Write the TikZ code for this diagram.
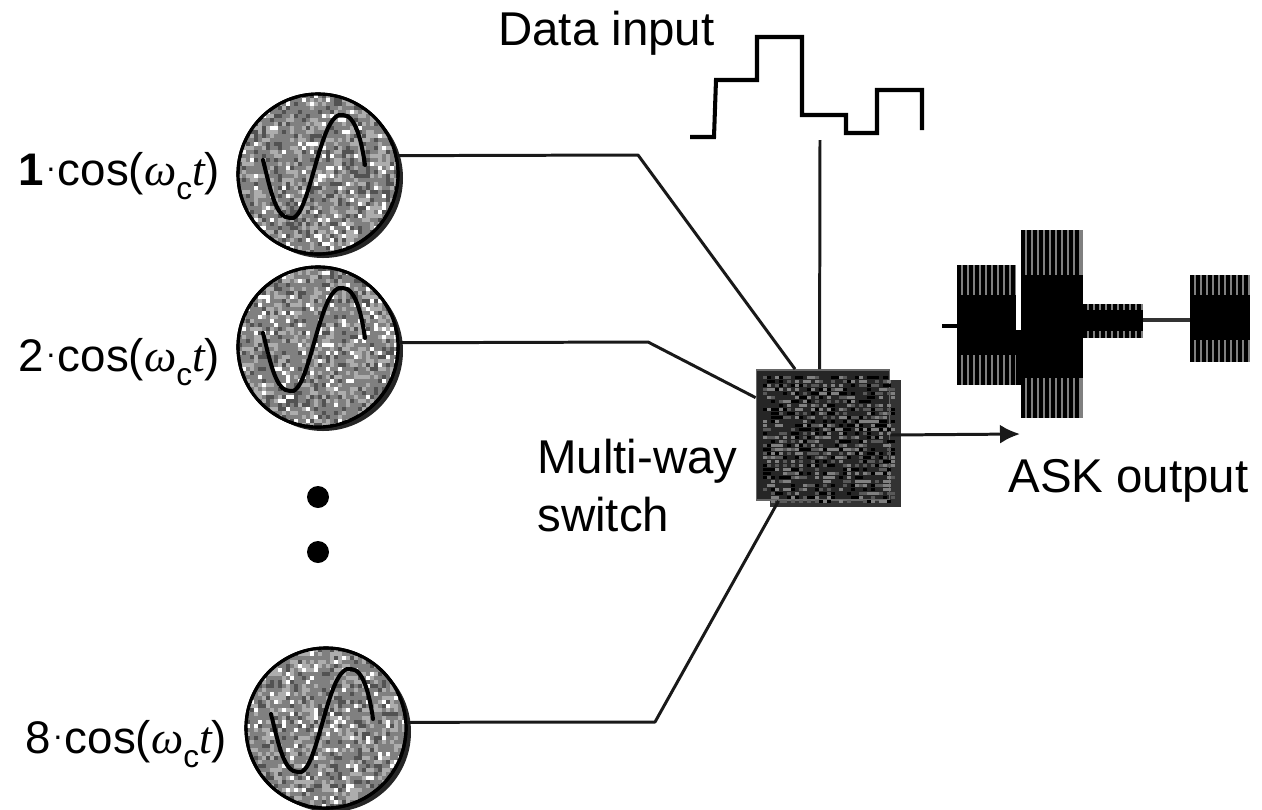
\documentclass[tikz,border=0pt]{standalone}
\usepackage{fontspec}
\usetikzlibrary{arrows.meta}
\setmainfont{Liberation Sans}
\newfontfamily\mathserif{Liberation Serif}
\tikzset{
  px/.style={x=0.02cm,y=-0.02cm},
  lbl/.style={inner sep=0pt,font=\fontsize{27pt}{31pt}\selectfont,align=left},
  cosl/.style={inner sep=0pt,font=\fontsize{26pt}{31pt}\selectfont},
  osc/.style={circle,draw=black,line width=1.8pt,minimum size=3.2cm,inner sep=0pt,fill=black!50},
  swbox/.style={rectangle,draw=gray!80!black,line width=1pt,fill=black!85,minimum width=2.66cm,minimum height=2.6cm,inner sep=0pt},
  wire/.style={line width=1.7pt,black!90,line join=round},
  dotn/.style={circle,fill=black,minimum size=0.44cm,inner sep=0pt},
  wave/.style={line width=2.3pt,black,line join=miter},
  sine/.style={line width=2.3pt,black,line cap=round}
}
\newcommand{\coslabel}[1]{#1\raisebox{0.16em}{\kern1pt\scalebox{0.7}{·}\kern1pt}cos({\mathserif\itshape ω}\raisebox{-0.3em}{\fontsize{18pt}{20pt}\selectfont c}{\mathserif\itshape t})}
% textured oscillator body at centre (#1,#2)
\newcommand{\oscbody}[3]{%
  \fill[black!85] (#1+5,#2+4) circle[radius=80];
  \node[osc] (#3) at (#1,#2) {};
  \begin{scope}
    \clip (#1,#2) circle[radius=79];
    \foreach \i in {1,...,1100}{
      \pgfmathsetmacro{\qx}{#1-80+4*int(rnd*40)}
      \pgfmathsetmacro{\qy}{#2-80+4*int(rnd*40)}
      \pgfmathsetmacro{\qc}{int(rnd*6)}
      \ifnum\qc=0 \def\qcol{white}\else\ifnum\qc<3 \def\qcol{black!68}\else\def\qcol{black!32}\fi\fi
      \fill[\qcol] (\qx,\qy) rectangle ++(4,4);
    }
  \end{scope}
  \draw[black,line width=1.8pt] (#1,#2) circle[radius=80];
  \draw[sine] (#1-55,#2-14) .. controls (#1-47,#2+18) and (#1-42,#2+44) .. (#1-28,#2+44)
     .. controls (#1-8,#2+50) and (#1+1,#2-65) .. (#1+25,#2-59)
     .. controls (#1+38,#2-59) and (#1+44,#2-30) .. (#1+47,#2-9);
}
% ASK burst
\newcommand{\askblock}[6]{%
  \fill[black!50] (#1,#3) rectangle (#2,#4);
  \pgfmathsetmacro{\nx}{#1+6}
  \pgfmathsetmacro{\lx}{#2-3}
  \foreach \sx in {#1,\nx,...,\lx}{
    \draw[black,line width=1.9pt] (\sx+2,#3) -- (\sx+2,#4);
  }
  \fill[black] (#1,#5) rectangle (#2,#6);
}
\begin{document}
\begin{tikzpicture}[px]
\useasboundingbox (0,0) rectangle (1262,809);
\pgfmathsetseed{4711}

% oscillators
\oscbody{318}{174}{osc1}
\oscbody{318}{347}{osc2}
\oscbody{326}{728}{osc8}

% switch
\fill[black!80] (770,380) rectangle (901,507);
\node[swbox] (sw) at (823,435) {};
\begin{scope}
  \clip (759,372) rectangle (888,498) (770,380) rectangle (900,506);
  \foreach \i in {1,...,1000}{
    \pgfmathsetmacro{\qx}{763+4*int(rnd*33)}
    \pgfmathsetmacro{\qy}{376+4*int(rnd*32)}
    \pgfmathsetmacro{\qc}{int(rnd*3)}
    \ifnum\qc=0 \def\qcol{black!50}\else\ifnum\qc=1 \def\qcol{black!65}\else\def\qcol{black}\fi\fi
    \fill[\qcol] (\qx,\qy) rectangle ++(4,3);
  }
\end{scope}

% labels
\node[cosl,anchor=west] (lab1) at (18,176) {\coslabel{\textbf{1}}};
\node[cosl,anchor=west] (lab2) at (18,362) {\coslabel{2}};
\node[cosl,anchor=west] (lab8) at (25,744) {\coslabel{8}};
\node[lbl,anchor=west] (data) at (498,33) {Data input};
\node[lbl,anchor=west] (mw1) at (537,461) {Multi-way};
\node[lbl,anchor=west] (mw2) at (537,515) {switch};
\node[lbl,anchor=west] (ask) at (1008,481) {ASK output};

% dots
\node[dotn] (d1) at (318,497) {};
\node[dotn] (d2) at (318,552) {};

% connectors
\coordinate (b1) at (638,155);
\coordinate (b2) at (648,342);
\coordinate (b8) at (655,722);
\coordinate (dtop) at (820,140);
\coordinate (out) at (1020,434);
\draw[wire] (osc1.13) -- (b1) -- (sw.113);
\draw[wire] (osc2.3) -- (b2) -- (sw.151);
\draw[wire] (osc8.4) -- (b8) -- (sw.236);
\draw[wire] (dtop) -- (sw.93);
\draw[wire,-{Latex[length=0.4cm,width=0.38cm]}] (sw.east) -- (out);

% data waveform
\draw[wave] (690,137) -- (714,137) -- (716,80) -- (757,80) -- (757,37) -- (802,37) -- (802,115)
  -- (846,115) -- (846,133) -- (877,133) -- (877,90) -- (922,90) -- (922,130);

% ASK waveform
\draw[black,line width=2pt] (942,326) -- (958,326);
\askblock{957}{1016}{265}{385}{295}{355}
\askblock{1021}{1083}{230}{418}{275}{378}
\fill[black] (1016,330) rectangle (1021,385);
\askblock{1083}{1143}{304}{338}{310}{331}
\draw[black!80,line width=2.2pt] (1143,320) -- (1190,320);
\askblock{1190}{1250}{275}{362}{295}{340}
\end{tikzpicture}
\end{document}
